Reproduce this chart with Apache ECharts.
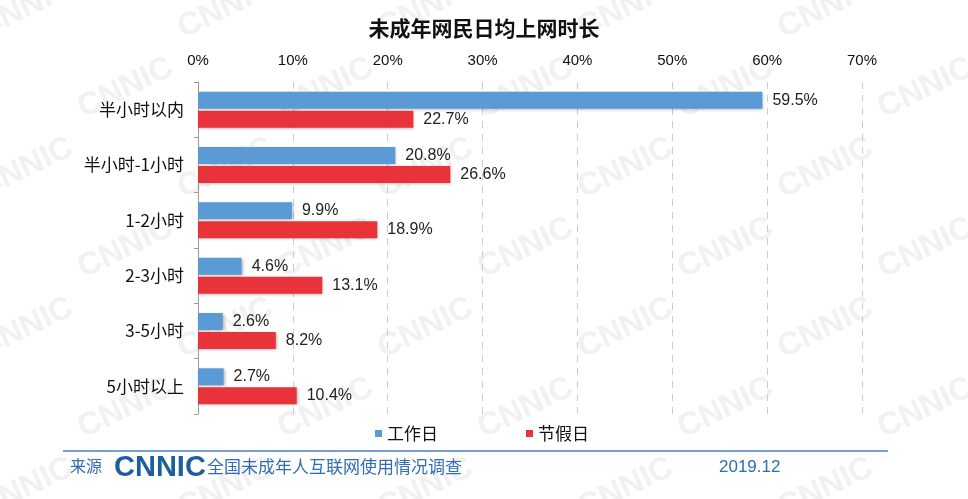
<!DOCTYPE html>
<html><head><meta charset="utf-8">
<script src="https://cdn.jsdelivr.net/npm/echarts@6/dist/echarts.min.js"></script>
<style>html,body{margin:0;padding:0;background:#fff}#c{width:968px;height:499px}</style>
</head><body><div id="c"></div>
<script>
const categories = ['半小时以内','半小时-1小时','1-2小时','2-3小时','3-5小时','5小时以上'];
const workday = [59.5, 20.8, 9.9, 4.6, 2.6, 2.7];
const holiday = [22.7, 26.6, 18.9, 13.1, 8.2, 10.4];
const seriesNames = ['工作日','节假日'];

const FONT = '"Liberation Sans","Noto Sans CJK SC",sans-serif';
const CJK = '"Noto Sans CJK SC",sans-serif';
const chart = echarts.init(document.getElementById('c'));
const labelCfg = {show:true, position:'right', distance:10, color:'#222', fontSize:16, fontFamily:FONT, formatter: p => p.value.toFixed(1)+'%'};

// faint background watermark
const marks = [];
for (let r = 0; r < 7; r++) {
  for (let c = 0; c < 6; c++) {
    marks.push({type:'text', silent:true, z:-10, x: -20 + c*200 + (r%2)*100, y: 30 + r*80, rotation: Math.PI/7,
      style:{text:'CNNIC', fill:'#f1f1f1', fontSize:32, fontWeight:'bold', fontFamily:'"Liberation Sans",sans-serif', textVerticalAlign:'middle'}});
  }
}

chart.setOption({
  animation:false,
  textStyle:{fontFamily:FONT},
  title:{text:'未成年网民日均上网时长', left:'center', top:13,
    textStyle:{fontSize:21, fontWeight:'bold', color:'#111', fontFamily:CJK}},
  legend:{data:seriesNames, bottom:52, left:370, itemGap:88, itemWidth:7, itemHeight:7, icon:'rect',
    textStyle:{fontSize:17, color:'#111', fontFamily:CJK}},
  grid:{left:198, right:106, top:82, bottom:85, containLabel:false},
  xAxis:{type:'value', position:'top', min:0, max:70, interval:10,
    axisLine:{show:false}, axisTick:{show:false},
    axisLabel:{formatter: v => v+'%', color:'#111', fontSize:15, margin:14},
    splitLine:{show:true, lineStyle:{color:'#cccccc', type:[7,6], width:1}}},
  yAxis:{type:'category', data:categories, inverse:true,
    axisLine:{show:true, lineStyle:{color:'#999'}},
    axisTick:{show:true, length:4, lineStyle:{color:'#999'}},
    axisLabel:{color:'#111', fontSize:17, margin:14, fontFamily:CJK}},
  series:[
    {name:seriesNames[0], type:'bar', data:workday, barWidth:17, barGap:'12%',
     itemStyle:{color:'#5B9BD5', shadowColor:'rgba(0,0,0,0.3)', shadowBlur:3, shadowOffsetX:1, shadowOffsetY:1},
     label:labelCfg},
    {name:seriesNames[1], type:'bar', data:holiday, barWidth:17,
     itemStyle:{color:'#E8333A', shadowColor:'rgba(0,0,0,0.3)', shadowBlur:3, shadowOffsetX:1, shadowOffsetY:1},
     label:labelCfg}
  ],
  graphic: marks.concat([
    {type:'line', shape:{x1:63,y1:451,x2:888,y2:451}, style:{stroke:'#4A7EC8', lineWidth:1.5}},
    {type:'text', left:70, top:458, style:{text:'来源', fill:'#2F6DB5', fontSize:16, fontFamily:CJK}},
    {type:'text', left:114, top:453, style:{text:'CNNIC', fill:'#1D5F9E', fontSize:29, fontWeight:'bold', fontFamily:'"Liberation Sans",sans-serif'}},
    {type:'text', left:207, top:458, style:{text:'全国未成年人互联网使用情况调查', fill:'#2F6DB5', fontSize:17, fontFamily:CJK}},
    {type:'text', left:719, top:459, style:{text:'2019.12', fill:'#2F6DB5', fontSize:17, fontFamily:'"Liberation Sans",sans-serif'}}
  ])
});
</script></body></html>
